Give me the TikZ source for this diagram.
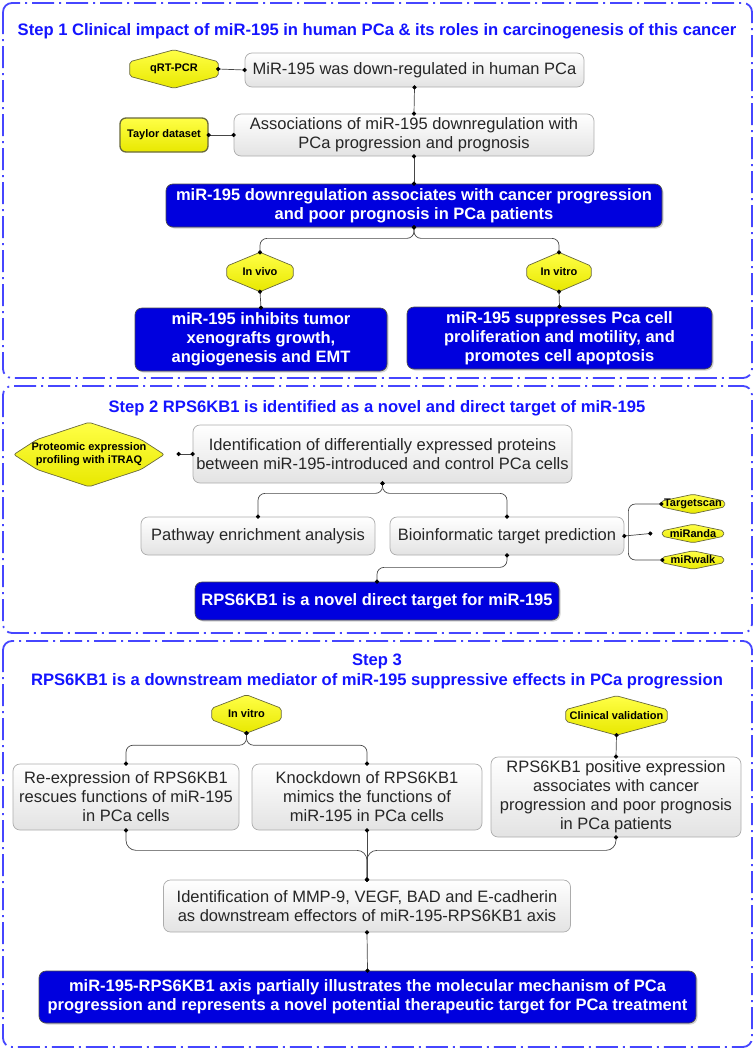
\documentclass[tikz,border=0pt]{standalone}
\usepackage{fontspec}
\setmainfont{Liberation Sans}
\usetikzlibrary{calc,backgrounds,shadows,arrows.meta}
\definecolor{frameblue}{RGB}{70,70,255}
\definecolor{titleblue}{RGB}{20,20,255}
\definecolor{boxblue}{RGB}{0,0,222}
\definecolor{hexborder}{RGB}{105,105,60}
\definecolor{connc}{RGB}{70,70,70}
\definecolor{ytop}{RGB}{255,255,70}
\definecolor{ybot}{RGB}{232,232,0}
\newcommand{\hexsh}[2]{%
  \path[yshape] (#1.north) -- ($(#1.east)!#2!(#1.north east)$) -- ($(#1.east)!#2!(#1.south east)$)
    -- (#1.south) -- ($(#1.west)!#2!(#1.south west)$) -- ($(#1.west)!#2!(#1.north west)$) -- cycle;}
\tikzset{
  frame/.style={draw=frameblue, line width=1.8pt, dash pattern=on 22pt off 5pt on 2pt off 5pt, rounded corners=9pt},
  title/.style={text=titleblue, font=\fontsize{16.6}{20}\selectfont\bfseries, anchor=base, inner sep=0pt},
  graybox/.style={draw=gray!65, line width=0.7pt, rounded corners=7pt, top color=white, bottom color=gray!22,
    font=\fontsize{16.5}{19}\selectfont, text=black!85, align=center, inner sep=0pt},
  bluebox/.style={draw=black!70, line width=0.7pt, rounded corners=7pt, fill=boxblue,
    drop shadow={shadow xshift=1.5pt, shadow yshift=-1.5pt, opacity=0.35},
    font=\fontsize{16.5}{19}\selectfont\bfseries, text=white, align=center, inner sep=0pt},
  ytext/.style={font=\fontsize{11}{13}\selectfont\bfseries, text=black, align=center, inner sep=0pt},
  yshape/.style={draw=hexborder, line width=0.7pt, top color=ytop, bottom color=ybot, rounded corners=2pt},
  ybox/.style={ytext, draw=hexborder, line width=1.3pt, rounded corners=6pt, top color=ytop, bottom color=ybot},
  conn/.style={draw=connc, line width=0.7pt, rounded corners=7pt},
  dd/.style={{Circle[length=4.2pt, color=black]}-{Circle[length=4.2pt, color=black]}, shorten <=-2.1pt, shorten >=-2.1pt},
}
\begin{document}
\begin{tikzpicture}[x=1pt, y=-1pt]
\useasboundingbox (0,0) rectangle (755,1050);
% frames
\draw[frame] (3,3) rectangle (752,378);
\draw[frame] (3,386) rectangle (752,633);
\draw[frame] (3,641) rectangle (752,1047);

% ---------- Step 1 ----------
\node[title] (t1) at (377,35) {Step 1 Clinical impact of miR-195 in human PCa \& its roles in carcinogenesis of this cancer};
\node[ytext, minimum width=88pt, minimum height=38pt] (hq) at (174,69) {qRT-PCR};
\node[graybox, minimum width=339pt, minimum height=34pt] (b1) at (414.5,70) {MiR-195 was down-regulated in human PCa};
\node[ybox, minimum width=88pt, minimum height=34pt] (tay) at (164,135) {Taylor dataset};
\node[graybox, minimum width=360pt, minimum height=42pt] (b2) at (414,135) {Associations of miR-195 downregulation with\\PCa progression and prognosis};
\node[bluebox, minimum width=496pt, minimum height=43pt] (b3) at (414,205.5) {miR-195 downregulation associates with cancer progression\\and poor prognosis in PCa patients};
\node[ytext, minimum width=66pt, minimum height=39pt] (iv1) at (260,272) {In vivo};
\node[ytext, minimum width=64pt, minimum height=39pt] (it1) at (559,272) {In vitro};
\node[bluebox, minimum width=252pt, minimum height=63pt] (b4) at (261,339.5) {miR-195 inhibits tumor\\xenografts growth,\\angiogenesis and EMT};
\node[bluebox, minimum width=305pt, minimum height=62pt] (b5) at (559.5,338) {miR-195 suppresses Pca cell\\proliferation and motility, and\\promotes cell apoptosis};

% ---------- Step 2 ----------
\node[title] (t2) at (377,412) {Step 2 RPS6KB1 is identified as a novel and direct target of miR-195};
\node[ytext, minimum width=150pt, minimum height=64pt] (prot) at (89,454.5) {Proteomic expression\\profiling with iTRAQ};
\node[graybox, minimum width=379pt, minimum height=58pt] (b6) at (382.5,454) {Identification of differentially expressed proteins\\between miR-195-introduced and control PCa cells};
\node[graybox, minimum width=234pt, minimum height=38pt] (b7) at (258,536) {Pathway enrichment analysis};
\node[graybox, minimum width=234pt, minimum height=38pt] (b8) at (507,536) {Bioinformatic target prediction};
\node[bluebox, minimum width=364pt, minimum height=38pt] (b9) at (377,601) {RPS6KB1 is a novel direct target for miR-195};
\node[ytext, minimum width=63pt, minimum height=19pt] (ts) at (693,504) {Targetscan};
\node[ytext, minimum width=61pt, minimum height=18pt] (mr) at (693,533.5) {miRanda};
\node[ytext, minimum width=61pt, minimum height=18pt] (mw) at (693,560) {miRwalk};

% ---------- Step 3 ----------
\node[title] (t3a) at (377,665) {Step 3};
\node[title] (t3b) at (377,685) {RPS6KB1 is a downstream mediator of miR-195 suppressive effects in PCa progression};
\node[ytext, minimum width=69pt, minimum height=38pt] (it3) at (246.5,714) {In vitro};
\node[ytext, minimum width=101pt, minimum height=39pt] (cv) at (616.5,715.5) {Clinical validation};
\node[graybox, minimum width=226pt, minimum height=66pt] (b10) at (126,797) {Re-expression of RPS6KB1\\rescues functions of miR-195\\in PCa cells};
\node[graybox, minimum width=230pt, minimum height=66pt] (b11) at (367,797) {Knockdown of RPS6KB1\\mimics the functions of\\miR-195 in PCa cells};
\node[graybox, minimum width=250pt, minimum height=80pt] (b12) at (616,797) {RPS6KB1 positive expression\\associates with cancer\\progression and poor prognosis\\in PCa patients};
\node[graybox, minimum width=407pt, minimum height=52pt] (b13) at (367,906) {Identification of MMP-9, VEGF, BAD and E-cadherin\\as downstream effectors of miR-195-RPS6KB1 axis};
\node[bluebox, minimum width=657pt, minimum height=52pt] (b14) at (367.5,997) {miR-195-RPS6KB1 axis partially illustrates the molecular mechanism of PCa\\progression and represents a novel potential therapeutic target for PCa treatment};

% yellow shapes behind their texts
\begin{scope}[on background layer]
  \hexsh{hq}{0.38}
  \hexsh{iv1}{0.3}
  \hexsh{it1}{0.3}
  \hexsh{ts}{0.3}
  \hexsh{mr}{0.3}
  \hexsh{mw}{0.3}
  \hexsh{it3}{0.3}
  \hexsh{cv}{0.3}
  \path[yshape] (prot.west) -- ($(prot.center)+(-52,-15)$) -- (prot.north) -- ($(prot.center)+(52,-15)$)
    -- (prot.east) -- ($(prot.center)+(52,15)$) -- (prot.south) -- ($(prot.center)+(-52,15)$) -- cycle;
\end{scope}

% free ends
\coordinate (pe) at ($(b6.west)+(-14,0)$);
\coordinate (mre) at ($(mr.west)+(-12,0)$);
\coordinate (brk) at ($(b8.east)+(4,0)$);

% ---------- connectors ----------
\draw[conn, dd] (hq.east) -- (b1.west);
\draw[conn, dd] (b1.south) -- (b2.north);
\draw[conn, dd] (tay.east) -- (b2.west);
\draw[conn, dd] (b2.south) -- (b3.north);
\draw[conn, dd] (b3.south) -- ++(0,11) -| (iv1.north);
\draw[conn, dd] (b3.south) -- ++(0,11) -| (it1.north);
\draw[conn, dd] (iv1.south) -- (b4.north);
\draw[conn, dd] (it1.south) -- (b5.north);

\draw[conn, dd] (pe) -- (b6.west);
\draw[conn, dd] (b6.south) -- ++(0,10) -| (b7.north);
\draw[conn, dd] (b6.south) -- ++(0,10) -| (b8.north);
\draw[conn, dd] (b8.south) -- ++(0,12) -| (b9.north);
\draw[conn, dd] (b8.east) -- (mre);
\draw[conn, dd] (ts.west) -| (brk) |- (mw.west);

\draw[conn, dd] (it3.south) -- ++(0,12) -| (b10.north);
\draw[conn, dd] (it3.south) -- ++(0,12) -| (b11.north);
\draw[conn, dd] (cv.south) -- (b12.north);
\draw[conn, dd, rounded corners=10pt] (b10.south) -- ++(0,20) -| (b13.north);
\draw[conn, dd, rounded corners=10pt] (b12.south) -- ++(0,13) -| (b13.north);
\draw[conn, dd] (b11.south) -- (b13.north);
\draw[conn, dd] (b13.south) -- (b14.north);
\end{tikzpicture}
\end{document}
